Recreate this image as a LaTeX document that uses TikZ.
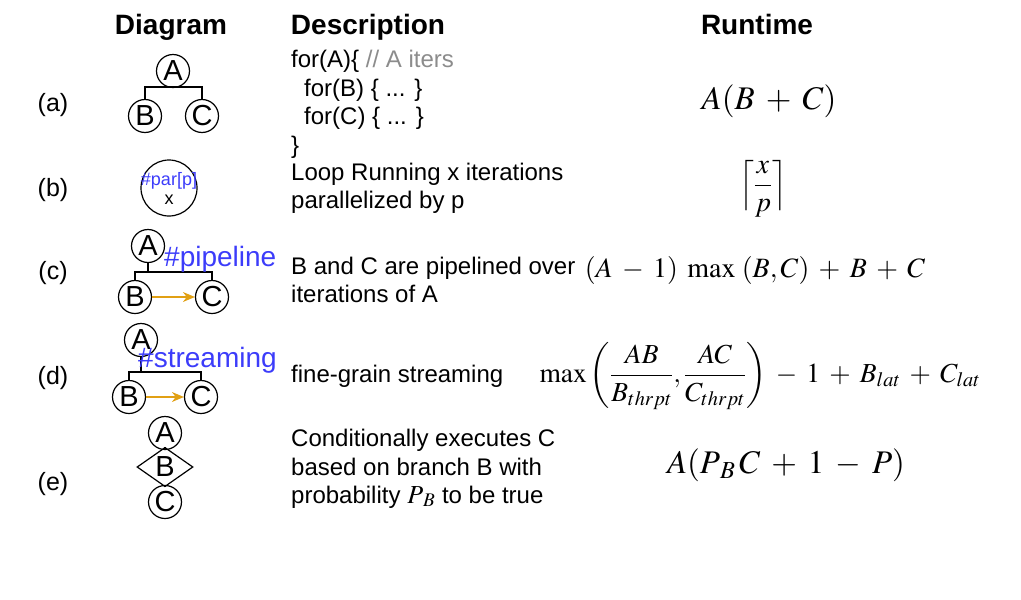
\documentclass[tikz,border=0pt]{standalone}
\usepackage{mathptmx}
\usepackage[no-math]{fontspec}
\setmainfont{Liberation Sans}
\usetikzlibrary{positioning, arrows.meta, shapes.geometric}
\definecolor{tagblue}{RGB}{60,60,250}
\definecolor{flow}{RGB}{225,160,20}
\definecolor{remark}{RGB}{140,140,140}
\medmuskip=6mu plus 2mu minus 4mu

\begin{document}
\begin{tikzpicture}
  [
    x=1pt, y=-1pt,
    loopnode/.style={draw, circle, minimum size=33pt, inner sep=0pt, line width=1.2pt, font=\fontsize{29}{29}\selectfont},
    parnode/.style={draw, circle, minimum size=56pt, inner sep=0pt, line width=1.2pt},
    branchnode/.style={draw, diamond, minimum width=56pt, minimum height=36pt, inner sep=0pt, line width=1.2pt, font=\fontsize{29}{29}\selectfont},
    head/.style={anchor=base, font=\fontsize{28}{28}\selectfont\bfseries},
    rowlabel/.style={font=\fontsize{25}{25}\selectfont},
    desc/.style={anchor=base west, inner sep=0pt, font=\fontsize{24}{28}\selectfont},
    tag/.style={anchor=base west, inner sep=0pt, text=tagblue, font=\fontsize{28}{28}\selectfont},
    cost/.style={font=\fontsize{33}{40}\selectfont},
    link/.style={line width=1.2pt},
    flowarrow/.style={-{Stealth[length=12pt, width=10pt]}, line width=1.2pt, draw=flow}
  ]
    \useasboundingbox (0,0) rectangle (1021,600);
    % =========================================================================
    % HEADERS AND ROW LABELS
    % =========================================================================
    \node [head] (hdiag) at (171,34) {Diagram};
    \node [head] (hdesc) at (368,34) {Description};
    \node [head] (hrun) at (757,34) {Runtime};

    \node [rowlabel] (la) at (53,105) {(a)};
    \node [rowlabel] (lb) at (53,190) {(b)};
    \node [rowlabel] (lc) at (53,273) {(c)};
    \node [rowlabel] (ld) at (53,378) {(d)};
    \node [rowlabel] (le) at (53,484) {(e)};

    % =========================================================================
    % DIAGRAMS
    % =========================================================================
    % --- (a) nested loops ---
    \node [loopnode] (aA) at (173,71) {A};
    \node [loopnode] (aB) at (145,116) {B};
    \node [loopnode] (aC) at (202,116) {C};
    \coordinate (aJ) at (173,87);
    % --- (b) parallel loop ---
    \node [parnode] (bX) at (169,188) {};
    \node [anchor=base, inner sep=0pt, text=tagblue, font=\fontsize{18}{18}\selectfont] (bTag) at (169,185) {\#par[p]};
    \node [anchor=base, inner sep=0pt, font=\fontsize{18}{18}\selectfont] (bIter) at (169,204) {x};
    % --- (c) pipeline ---
    \node [loopnode] (cA) at (148,246) {A};
    \node [loopnode] (cB) at (135,297) {B};
    \node [loopnode] (cC) at (212,297) {C};
    \coordinate (cJ) at (148,272);
    % --- (d) streaming ---
    \node [loopnode] (dA) at (141,340) {A};
    \node [loopnode] (dB) at (129,397) {B};
    \node [loopnode] (dC) at (201,397) {C};
    \coordinate (dJ) at (141,372);
    % --- (e) branch ---
    \node [loopnode] (eA) at (165,433) {A};
    \node [branchnode] (eB) at (165,467) {B};
    \node [loopnode] (eC) at (165,502) {C};

    % =========================================================================
    % PATHS
    % =========================================================================
    \draw [link] (aA.south) -- (aJ);
    \draw [link] (aB.north) |- (aJ) -| (aC.north);
    \draw [link] (cA.south) -- (cJ);
    \draw [link] (cB.north) |- (cJ) -| (cC.north);
    \draw [flowarrow] (cB.east) -- (cC.west);
    \draw [link] (dA.south) -- (dJ);
    \draw [link] (dB.north) |- (dJ) -| (dC.north);
    \draw [flowarrow] (dB.east) -- (dC.west);
    \draw [link] (eA.south) -- (eB.north);
    \draw [link] (eB.south) -- (eC.north);

    \node [tag] (cTag) at (164,266) {\#pipeline};
    \node [tag] (dTag) at (138,367) {\#streaming};

    % =========================================================================
    % DESCRIPTIONS
    % =========================================================================
    \node [desc] (da1) at (291,67) {for(A)\{ \textcolor{remark}{// A iters}};
    \node [desc] (da2) at (304,96) {for(B) \{ ... \}};
    \node [desc] (da3) at (304,124) {for(C) \{ ... \}};
    \node [desc] (da4) at (291,153) {\}};

    \node [desc] (db1) at (291,180) {Loop Running x iterations};
    \node [desc] (db2) at (291,208) {parallelized by p};

    \node [desc] (dc1) at (291,274) {B and C are pipelined over};
    \node [desc] (dc2) at (291,302) {iterations of A};

    \node [desc] (dd1) at (291,382) {fine-grain streaming};

    \node [desc] (de1) at (291,446) {Conditionally executes C};
    \node [desc] (de2) at (291,475) {based on branch B with};
    \node [desc] (de3) at (291,503) {probability {\fontsize{26}{28}\selectfont$P_{\mkern3mu B}$} to be true};

    % =========================================================================
    % RUNTIMES
    % =========================================================================
    \node [cost] (ra) at (769,101) {$A(B+C)$};
    \node [cost, font=\fontsize{28}{34}\selectfont] (rb) at (763,189) {\delimiterfactor=700 \delimitershortfall=20pt $\left\lceil\displaystyle\frac{x}{p}\right\rceil$};
    \node [cost, font=\fontsize{28}{34}\selectfont] (rc) at (755,270) {$(A-1)\;\max\;(B,C)+B+C$};
    \node [cost, font=\fontsize{27.5}{34}\selectfont] (rd) at (760,376) {$\displaystyle\max\left(\frac{AB}{B_{thrpt}},\frac{AC}{C_{thrpt}}\right)-1+B_{lat}+C_{lat}$};
    \node [cost] (re) at (786,465) {$A(P_{\mkern3mu B}\mkern2mu C+1-P)$};
  \end{tikzpicture}
\end{document}
